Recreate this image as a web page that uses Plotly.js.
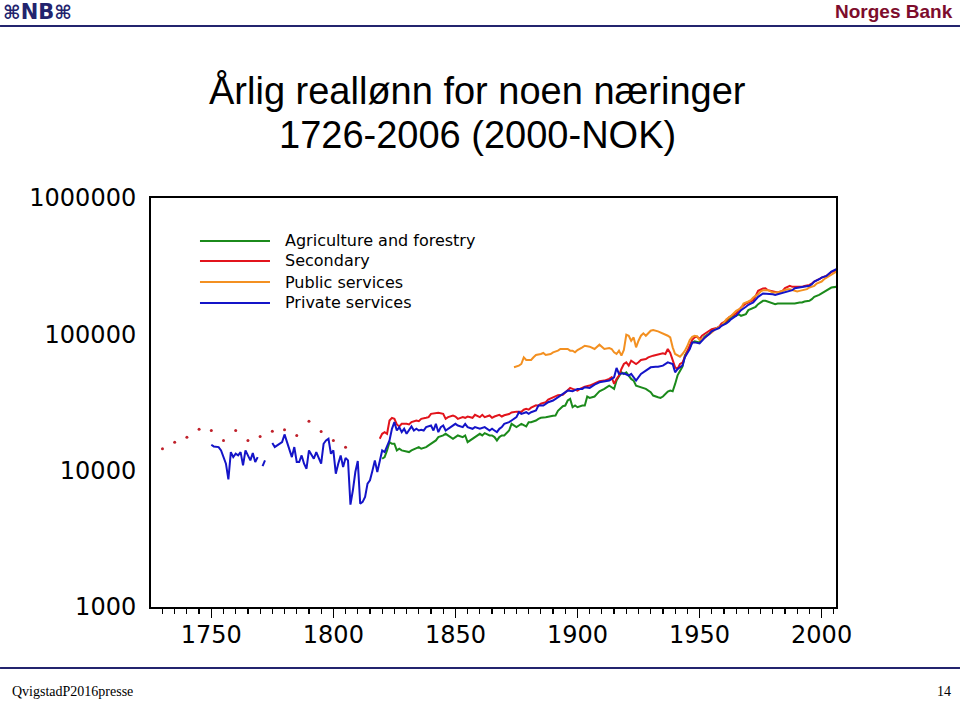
<!DOCTYPE html>
<html>
<head>
<meta charset="utf-8">
<script src="https://cdn.plot.ly/plotly-3.0.1.min.js"></script>
<style>
html,body{margin:0;padding:0;background:#ffffff;}
#chart{width:960px;height:702px;}
</style>
</head>
<body>
<div id="chart"></div>
<script>
// ---------- DATA ----------
const seriesNames = ["Agriculture and forestry", "Secondary", "Public services", "Private services"];
const seriesColors = ["#1b8a1b", "#e2141c", "#f39021", "#1414c8"];

const agriYears = [
  1820,1821,1822,1823,1824,1825,1826,1827,1828,1829,
  1830,1831,1832,1834,1835,1836,1838,1839,1840,1842,
  1843,1845,1846,1847,1849,1850,1851,1853,1854,1855,
  1857,1858,1860,1861,1862,1864,1865,1866,1867,1868,
  1869,1870,1872,1873,1875,1876,1877,1879,1880,1881,
  1883,1884,1885,1887,1888,1890,1891,1892,1894,1895,
  1896,1897,1898,1899,1900,1902,1903,1904,1905,1907,
  1908,1909,1911,1913,1914,1915,1916,1917,1918,1919,
  1920,1922,1923,1924,1926,1928,1930,1931,1933,1934,
  1935,1937,1938,1939,1940,1941,1943,1944,1946,1947,
  1948,1950,1951,1952,1954,1955,1956,1958,1959,1961,
  1962,1963,1965,1966,1967,1969,1970,1972,1973,1974,
  1976,1977,1978,1980,1981,1982,1984,1985,1987,1988,
  1989,1991,1992,1993,1995,1996,1997,1999,2000,2002,
  2003,2004,2006];
const agriValues = [
  12230,12580,14080,16200,15750,15750,14080,14480,14080,13920,
  13840,13690,14080,14720,14890,14480,14890,15320,15750,16660,
  17630,18130,18640,18130,17130,17630,18130,17630,18130,16200,
  17130,17630,18640,18130,18850,18130,18130,17630,16660,17630,
  18130,18130,19710,22060,20860,21450,22060,21090,22690,22690,
  23330,24000,24410,24690,24960,25300,25390,27500,29700,30040,
  32690,33620,29210,30050,29210,30050,30050,34970,34190,34970,
  36570,38250,39780,42070,40910,39780,45780,49800,52670,51210,
  52670,47080,45780,42070,40910,39780,37610,35560,34580,34190,
  34970,38000,38680,38250,43270,50000,58000,70000,80260,87000,
  89000,87300,90800,96050,101600,106300,109300,112400,117600,122300,
  129300,134600,136800,140700,136800,140700,150500,155700,159200,166500,
  176100,176100,174200,168400,166500,168400,168400,166500,168400,168400,
  168400,171200,171200,174200,176100,181100,188400,194800,199300,208400,
  214400,220500,223000];

const secYears = [
  1819,1820,1821,1822,1823,1824,1825,1826,1827,1828,
  1830,1831,1832,1834,1835,1836,1838,1839,1840,1842,
  1843,1845,1846,1847,1849,1850,1851,1853,1854,1855,
  1857,1858,1860,1861,1862,1864,1865,1866,1868,1869,
  1870,1872,1873,1875,1876,1877,1878,1879,1880,1881,
  1883,1884,1885,1887,1888,1890,1891,1892,1894,1895,
  1896,1897,1898,1900,1901,1903,1905,1907,1909,1911,
  1913,1914,1915,1916,1917,1918,1919,1920,1921,1922,
  1924,1925,1926,1928,1929,1931,1933,1935,1936,1937,
  1938,1939,1940,1941,1942,1943,1944,1945,1946,1947,
  1948,1949,1950,1951,1952,1954,1955,1957,1958,1959,
  1961,1962,1963,1965,1966,1967,1969,1970,1972,1973,
  1974,1976,1977,1978,1980,1981,1982,1984,1985,1987,
  1988,1989,1991,1992,1993,1995,1996,1997,1999,2000,
  2002,2003,2004,2006];
const secValues = [
  17130,18640,19160,18640,23330,24410,24000,21810,21090,22060,
  22060,21810,22690,23330,23070,24000,24410,24690,26110,26560,
  26560,26110,24000,24690,25390,24960,24000,24690,24410,24960,
  24410,25670,24690,25670,24690,25390,24410,24960,25670,24960,
  25500,26000,26700,27100,27200,27000,28000,28400,28000,29000,
  30200,30000,31000,31800,33200,34300,35000,35800,36000,37600,
  39200,40450,39780,38680,39780,41370,42070,43770,45270,45780,
  47080,48420,43280,47080,49800,55720,60620,62350,58940,64120,
  60620,62350,64850,65950,67820,69750,70930,72550,71740,78040,
  73000,65000,57300,55720,60620,62000,67820,73780,82000,91000,
  94970,96050,92340,97680,100500,106300,109300,111200,113700,120200,
  125800,133000,136800,142300,148800,157400,168400,171200,178100,191600,
  208400,216800,218000,210800,206100,202700,202700,208400,218000,226800,
  223000,223000,223000,223000,226800,230600,235800,243900,253700,260900,
  268400,279100,286000,295000];

// early, sparse observations of the secondary series (drawn as dots)
const secEarlyYears = [1730,1735,1740,1745,1750,1755,1760,1765,1770,1775,1780,1785,1790,1795,1800,1805];
const secEarlyValues = [14490,16190,17610,20150,19720,16660,19720,16660,17820,19490,19950,18130,23060,19390,16660,14880];

const pubYears = [
  1874,1876,1877,1878,1879,1881,1882,1883,1885,1886,
  1887,1889,1890,1892,1893,1894,1896,1897,1898,1899,
  1900,1902,1903,1905,1906,1907,1909,1910,1911,1913,
  1914,1915,1916,1917,1918,1919,1920,1921,1922,1923,
  1924,1925,1926,1927,1928,1930,1931,1933,1934,1935,
  1937,1938,1939,1940,1941,1942,1943,1944,1945,1946,
  1947,1948,1949,1950,1952,1953,1955,1956,1957,1959,
  1960,1961,1963,1964,1965,1967,1968,1970,1971,1972,
  1974,1975,1976,1978,1979,1980,1982,1983,1985,1986,
  1987,1989,1990,1991,1993,1994,1995,1997,1998,2000,
  2001,2002,2004,2005,2006];
const pubValues = [
  57300,58940,60620,67820,64850,64850,67820,70540,71740,72950,
  70540,71740,73780,75880,78040,78040,78040,75880,75880,73780,
  76740,80260,82550,81170,79360,78040,83950,81170,78040,79360,
  78040,73780,71740,75880,69750,76740,99340,97680,89780,94970,
  80260,89780,97680,101600,97680,106300,107500,105100,103300,100500,
  97680,94970,80260,71740,69750,68590,71740,75880,82000,91000,
  96050,97680,96500,90800,93910,97680,103300,108100,111200,115600,
  122300,129300,136800,142300,148800,155700,168400,174200,178100,186300,
  197000,206100,210800,210800,206100,202700,202700,206100,210800,214400,
  214400,208400,206100,208400,210800,214400,220500,226800,235800,243900,
  253700,260900,272900,283900,288000];

const privYears = [
  1750,1751,1753,1754,1756,1757,1758,1759,1760,1761,
  1762,1763,1764,1765,1766,1767,1768,1769,1770,1771,
  1772,1773,1775,1776,1777,1779,1780,1781,1782,1783,
  1784,1785,1786,1787,1788,1789,1790,1791,1792,1793,
  1794,1795,1796,1797,1798,1799,1800,1801,1802,1803,
  1804,1805,1806,1807,1808,1809,1810,1811,1812,1813,
  1814,1815,1816,1817,1818,1819,1820,1821,1822,1823,
  1824,1825,1826,1827,1828,1829,1830,1831,1832,1833,
  1834,1835,1836,1837,1838,1840,1841,1842,1843,1844,
  1845,1846,1847,1849,1850,1851,1853,1854,1855,1857,
  1858,1860,1861,1862,1864,1865,1866,1867,1868,1869,
  1870,1872,1873,1875,1876,1877,1879,1880,1881,1883,
  1884,1886,1887,1888,1890,1891,1892,1894,1895,1896,
  1898,1900,1902,1903,1905,1907,1909,1911,1913,1915,
  1916,1917,1918,1919,1921,1922,1924,1925,1926,1928,
  1929,1930,1932,1933,1935,1936,1937,1939,1940,1941,
  1943,1944,1946,1947,1948,1950,1951,1952,1954,1955,
  1956,1958,1959,1961,1962,1963,1965,1966,1967,1969,
  1970,1972,1973,1974,1976,1977,1978,1980,1981,1982,
  1984,1985,1987,1988,1989,1991,1992,1993,1995,1996,
  1997,1999,2000,2002,2003,2004,2006];
const privValues = [
  15490,15060,14890,14080,11250,8640,13690,12580,13310,12940,
  13690,10940,14080,12940,11900,13460,11570,12580,null,10810,
  11900,null,15930,14890,15320,16200,18440,16200,14480,12580,
  14890,11570,11570,12940,11250,10330,14080,12940,12230,13690,
  12230,11250,15750,16660,17130,13310,14080,9500,11250,12940,
  10630,12400,11900,5640,7180,9770,11760,5730,5900,6410,
  8030,8490,10000,11900,9770,11900,14080,13690,14890,16660,
  20280,22690,19710,20860,19160,20280,18640,19710,21090,19710,
  20280,19710,19940,19710,20860,21450,19710,22060,19160,20860,
  21450,19710,20280,21450,22060,21450,20860,22060,20860,20280,
  20860,20280,20620,20860,19710,20280,19710,19160,20280,20860,
  22060,22690,23330,24690,26850,26110,26850,26110,26850,27610,
  30040,30040,30900,31780,32690,33620,34970,36580,37620,38680,
  38250,39780,39780,40910,40450,42790,44510,45270,45780,48420,
  56660,51210,51210,51800,49800,51210,45780,48420,51210,54170,
  55720,57300,57950,57950,58940,60620,62350,60620,52670,55720,
  58940,67820,78040,87300,87300,85850,89780,93910,100500,105100,
  107500,111200,115600,120200,124400,129300,136800,142300,150500,159200,
  164700,171200,178100,188400,199300,199300,199300,197000,194800,197000,
  199300,202700,206100,210800,218000,220500,223000,223000,226800,233200,
  243900,253700,260900,268400,279100,288700,300300];

const xTickVals = [1750, 1800, 1850, 1900, 1950, 2000];
const xTickText = ["1750", "1800", "1850", "1900", "1950", "2000"];
const yTickVals = [1000, 10000, 100000, 1000000];
const yTickText = ["1000", "10000", "100000", "1000000"];

const titleLines = ["Årlig reallønn for noen næringer", "1726-2006 (2000-NOK)"];
const headerRight = "Norges Bank";
const logoMark = "⌘";
const logoLetters = "NB";
const footerLeft = "QvigstadP2016presse";
const footerRight = "14";

// ---------- TRACES ----------
const seriesX = [agriYears, secYears, pubYears, privYears];
const seriesY = [agriValues, secValues, pubValues, privValues];

const traces = [];
// early, sparse observations of the secondary series
traces.push({
  type: "scatter", mode: "markers",
  x: secEarlyYears, y: secEarlyValues,
  marker: {color: "#c0202a", size: 3},
  hoverinfo: "x+y", showlegend: false
});
for (let i = 0; i < seriesNames.length; i++) {
  traces.push({
    type: "scatter", mode: "lines",
    name: seriesNames[i],
    x: seriesX[i], y: seriesY[i],
    line: {color: seriesColors[i], width: 2},
    connectgaps: false,
    showlegend: false
  });
}

// ---------- LAYOUT ----------
const navy = "#23246e";
const markSpan = "<span style='font-size:19px'>" + logoMark + "</span>";
const annotations = [
  {text: titleLines[0], xref: "paper", yref: "paper", x: 0.476, y: 1.2640, xanchor: "center", yanchor: "middle",
   showarrow: false, font: {family: "Liberation Sans, Arial, sans-serif", size: 38, color: "#000"}},
  {text: titleLines[1], xref: "paper", yref: "paper", x: 0.476, y: 1.1540, xanchor: "center", yanchor: "middle",
   showarrow: false, font: {family: "Liberation Sans, Arial, sans-serif", size: 38, color: "#000"}},
  {text: "<b>" + headerRight + "</b>", xref: "paper", yref: "paper", x: 1.1737, y: 1.4548, xanchor: "right", yanchor: "middle",
   showarrow: false, font: {family: "Liberation Sans, Arial, sans-serif", size: 19, color: "#7d0c2c"}},
  {text: "<b>" + markSpan + logoLetters + markSpan + "</b>", xref: "paper", yref: "paper", x: -0.2190, y: 1.4548,
   xanchor: "left", yanchor: "middle",
   showarrow: false, font: {family: "DejaVu Sans, sans-serif", size: 21, color: navy}},
  {text: footerLeft, xref: "paper", yref: "paper", x: -0.2058, y: -0.2078, xanchor: "left", yanchor: "middle",
   showarrow: false, font: {family: "Liberation Serif, Times New Roman, serif", size: 14, color: "#000"}},
  {text: footerRight, xref: "paper", yref: "paper", x: 1.1708, y: -0.2078, xanchor: "right", yanchor: "middle",
   showarrow: false, font: {family: "Liberation Serif, Times New Roman, serif", size: 14, color: "#000"}}
];
const shapes = [
  {type: "line", xref: "paper", yref: "paper", x0: -0.2204, x1: 1.181, y0: 1.4205, y1: 1.4205, line: {color: navy, width: 2}},
  {type: "line", xref: "paper", yref: "paper", x0: -0.2204, x1: 1.181, y0: -0.1491, y1: -0.1491, line: {color: navy, width: 2}}
];
// legend (long sample lines as in the original)
const legendRowsY = [0.8949, 0.8460, 0.7946, 0.7433];
for (let i = 0; i < seriesNames.length; i++) {
  shapes.push({type: "line", xref: "paper", yref: "paper", x0: 0.0715, x1: 0.1737, y0: legendRowsY[i], y1: legendRowsY[i],
               line: {color: seriesColors[i], width: 2}});
  annotations.push({text: seriesNames[i], xref: "paper", yref: "paper", x: 0.1927, y: legendRowsY[i],
                    xanchor: "left", yanchor: "middle", showarrow: false,
                    font: {family: "DejaVu Sans, sans-serif", size: 16, color: "#000"}});
}

const layout = {
  width: 960, height: 702,
  margin: {l: 151, r: 124, t: 198, b: 95, pad: 0},
  paper_bgcolor: "#ffffff", plot_bgcolor: "#ffffff",
  showlegend: false,
  xaxis: {
    range: [1725.3, 2005.9],
    tickmode: "array", tickvals: xTickVals, ticktext: xTickText,
    ticks: "outside", ticklen: 9, tickwidth: 1.5, tickcolor: "#000",
    minor: {dtick: 5, tick0: 1725, ticks: "outside", ticklen: 5, tickwidth: 1.2, tickcolor: "#000", showgrid: false},
    showgrid: false, zeroline: false,
    showline: true, linecolor: "#000", linewidth: 2, mirror: true,
    ticklabelstandoff: -4,
    tickfont: {family: "DejaVu Sans, sans-serif", size: 24, color: "#000"}
  },
  yaxis: {
    type: "log", range: [3, 6],
    tickmode: "array", tickvals: yTickVals, ticktext: yTickText,
    ticks: "", showgrid: false, zeroline: false,
    showline: true, linecolor: "#000", linewidth: 2, mirror: true,
    ticklabelstandoff: 8,
    tickfont: {family: "DejaVu Sans, sans-serif", size: 24, color: "#000"}
  },
  annotations: annotations,
  shapes: shapes
};

Plotly.newPlot("chart", traces, layout, {displayModeBar: false, staticPlot: true});
</script>
</body>
</html>
